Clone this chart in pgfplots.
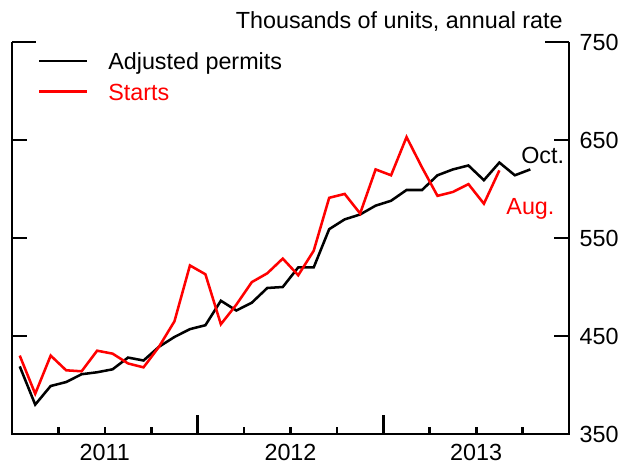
\documentclass[border=0pt]{standalone}
\usepackage{pgfplots}
\pgfplotsset{compat=1.18}
\usepackage{fontspec}
\setmainfont{Liberation Sans}
\newcommand{\cf}{\fontsize{17.5}{21}\selectfont}
\pgfplotstableread{
x y
0.5 419
1.5 380
2.5 399
3.5 403
4.5 411
5.5 413
6.5 416
7.5 428
8.5 425
9.5 439
10.5 449
11.5 457
12.5 461
13.5 486
14.5 476
15.5 484
16.5 499
17.5 500
18.5 520
19.5 520
20.5 559
21.5 569
22.5 574
23.5 583
24.5 588
25.5 599
26.5 599
27.5 614
28.5 620
29.5 624
30.5 609
31.5 627
32.5 614
33.5 620
}\permits
\pgfplotstableread{
x y
0.5 430
1.5 391
2.5 430
3.5 415
4.5 414
5.5 435
6.5 432
7.5 422
8.5 418
9.5 439
10.5 465
11.5 522
12.5 513
13.5 462
14.5 482
15.5 505
16.5 514
17.5 529
18.5 512
19.5 537
20.5 591
21.5 595
22.5 575
23.5 620
24.5 614
25.5 653
26.5 622
27.5 593
28.5 597
29.5 605
30.5 585
31.5 619
}\starts
\begin{document}
\begin{tikzpicture}
\useasboundingbox (-9pt,-23.25pt) rectangle (465.75pt,325.5pt);
\begin{axis}[
  at={(0,0)}, anchor=south west, scale only axis,
  width=417.75pt, height=294pt,
  xmin=0, xmax=36, ymin=350, ymax=750,
  axis line style={draw=none},
  tick align=inside,
  xtick pos=left,
  ytick pos=both, yticklabel pos=right,
  major tick length=11pt,
  tick style={line width=2pt, black},
  xtick={6,18,30}, xticklabels={2011,2012,2013},
  major x tick style={draw=none},
  ytick={350,450,550,650},
  extra y ticks={750},
  extra y tick style={major tick length=18pt},
  /pgf/number format/assume math mode=true,
  /pgf/number format/1000 sep={},
  tick label style={font=\cf},
  xticklabel style={yshift=-4pt},
  yticklabel style={xshift=4.5pt},
  clip=false,
]
\addplot[black, line width=1.9pt, line join=miter] table[x=x,y=y] {\permits};
\addplot[red, line width=1.9pt, line join=miter] table[x=x,y=y] {\starts};
\draw[line width=2pt, black] (rel axis cs:0,1) -- (rel axis cs:0,0) -- (rel axis cs:1,0) -- (rel axis cs:1,1);
\pgfplotsinvokeforeach{3,6,9,15,18,21,27,30,33}{
  \draw[line width=2pt, black] (axis cs:#1,350) -- ([yshift=5.5pt]axis cs:#1,350);
}
\pgfplotsinvokeforeach{12,24}{
  \draw[line width=2pt, black] (axis cs:#1,350) -- ([yshift=14pt]axis cs:#1,350);
}
\node[anchor=base east, inner sep=0pt, font=\cf] at ([xshift=-4.5pt,yshift=10.5pt]rel axis cs:1,1) {Thousands of units, annual rate};
\draw[black, line width=1.9pt] (rel axis cs:0.0485,0.9515) -- (rel axis cs:0.1347,0.9515);
\draw[red, line width=1.9pt] (rel axis cs:0.0485,0.8735) -- (rel axis cs:0.1347,0.8735);
\node[anchor=base west, inner sep=0pt, font=\cf] at (rel axis cs:0.1724,0.929) {Adjusted permits};
\node[anchor=base west, inner sep=0pt, font=\cf, text=red] at (rel axis cs:0.1724,0.8513) {Starts};
\node[anchor=base west, inner sep=0pt, font=\cf] at (axis cs:32.9,626.5) {Oct.};
\node[anchor=base west, inner sep=0pt, font=\cf, text=red] at (axis cs:31.94,573.5) {Aug.};
\end{axis}
\end{tikzpicture}
\end{document}
